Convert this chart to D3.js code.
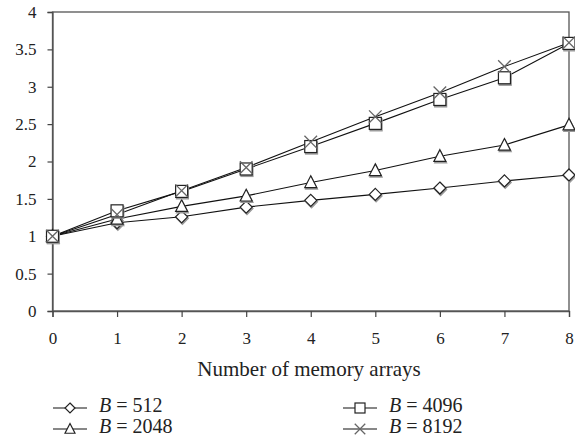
<!DOCTYPE html>
<html>
<head>
<meta charset="utf-8">
<script src="https://cdn.jsdelivr.net/npm/d3@7"></script>
<style>
  body { margin: 0; background: #fff; }
  svg text { font-family: "Liberation Serif", "DejaVu Serif", serif; fill: #222; }
</style>
</head>
<body>
<svg id="chart" width="575" height="447"></svg>
<script>
// values
const xs = [0, 1, 2, 3, 4, 5, 6, 7, 8];
const b512 = [1, 1.18, 1.26, 1.39, 1.48, 1.56, 1.645, 1.74, 1.82];
const b2048 = [1, 1.23, 1.40, 1.54, 1.72, 1.88, 2.07, 2.22, 2.49];
const b4096 = [1, 1.34, 1.60, 1.90, 2.20, 2.51, 2.83, 3.12, 3.58];
const b8192 = [1, 1.29, 1.61, 1.92, 2.26, 2.60, 2.92, 3.27, 3.59];
const yTicks = [0, 0.5, 1, 1.5, 2, 2.5, 3, 3.5, 4];
const seriesNames = ['512', '2048', '4096', '8192'];

const series = [
  { name: seriesNames[0], vals: b512, sym: 'diamond' },
  { name: seriesNames[1], vals: b2048, sym: 'triangle' },
  { name: seriesNames[2], vals: b4096, sym: 'square' },
  { name: seriesNames[3], vals: b8192, sym: 'cross' }
];

const svg = d3.select('#chart');

const x = d3.scaleLinear().domain([0, 8]).range([52.5, 569]);
const y = d3.scaleLinear().domain([0, 4]).range([311, 12]);

// box
svg.append('rect')
  .attr('x', x(0)).attr('y', y(4))
  .attr('width', x(8) - x(0)).attr('height', y(0) - y(4))
  .attr('fill', 'none').attr('stroke', '#555').attr('stroke-width', 1.3);

// y axis
const yAx = svg.append('g')
  .attr('transform', `translate(${x(0)},0)`)
  .call(d3.axisLeft(y).tickValues(yTicks).tickSize(5).tickPadding(11)
    .tickFormat(d => String(d)));
// x axis
const xAx = svg.append('g')
  .attr('transform', `translate(0,${y(0)})`)
  .call(d3.axisBottom(x).tickValues(xs).tickSize(6).tickPadding(15)
    .tickFormat(d => String(d)));
[yAx, xAx].forEach(g => {
  g.select('.domain').attr('stroke', '#555').attr('stroke-width', 1.3);
  g.selectAll('.tick line').attr('stroke', '#444').attr('stroke-width', 1.2);
  g.selectAll('.tick text')
    .attr('font-family', '"Liberation Serif", serif')
    .attr('font-size', 17).attr('fill', '#222');
});

svg.append('text')
  .attr('x', 309).attr('y', 376)
  .attr('text-anchor', 'middle')
  .attr('font-size', 21)
  .text('Number of memory arrays');

function drawSymbol(g, sym, cx, cy, r, shadow) {
  const shapes = [];
  if (shadow && sym !== 'cross') shapes.push({ dx: 0.8, dy: 1.5, col: '#999', fill: '#999' });
  shapes.push({ dx: 0, dy: 0, col: sym === 'cross' ? '#666' : '#222', fill: '#fff' });
  shapes.forEach(o => {
    const X = cx + o.dx, Y = cy + o.dy;
    if (sym === 'diamond') {
      g.append('path')
        .attr('d', `M${X},${Y - r}L${X + r},${Y}L${X},${Y + r}L${X - r},${Y}Z`)
        .attr('fill', o.fill).attr('stroke', o.col).attr('stroke-width', 1.2);
    } else if (sym === 'triangle') {
      g.append('path')
        .attr('d', `M${X},${Y - r * 1.1}L${X + r},${Y + r * 0.85}L${X - r},${Y + r * 0.85}Z`)
        .attr('fill', o.fill).attr('stroke', o.col).attr('stroke-width', 1.2);
    } else if (sym === 'square') {
      g.append('rect')
        .attr('x', X - r).attr('y', Y - r).attr('width', 2 * r).attr('height', 2 * r)
        .attr('fill', o.fill).attr('stroke', o.col).attr('stroke-width', 1.2);
    } else {
      const c = r * 1.05;
      g.append('path')
        .attr('d', `M${X - c},${Y - c}L${X + c},${Y + c}M${X + c},${Y - c}L${X - c},${Y + c}`)
        .attr('fill', 'none').attr('stroke', o.col).attr('stroke-width', 1.3);
    }
  });
}

const line = d3.line().x((d, i) => x(xs[i])).y(d => y(d));

series.forEach(s => {
  svg.append('path')
    .datum(s.vals)
    .attr('d', line)
    .attr('fill', 'none').attr('stroke', '#111').attr('stroke-width', 1.1);
});
series.forEach(s => {
  const g = svg.append('g');
  s.vals.forEach((v, i) => drawSymbol(g, s.sym, x(xs[i]), y(v), 6, true));
});

// legend
const legPos = [
  { lx: 53, ly: 408 }, { lx: 53, ly: 429 },
  { lx: 343, ly: 408 }, { lx: 343, ly: 429 }
];
series.forEach((s, i) => {
  const p = legPos[i];
  const g = svg.append('g');
  g.append('line')
    .attr('x1', p.lx).attr('x2', p.lx + 34)
    .attr('y1', p.ly).attr('y2', p.ly)
    .attr('stroke', '#111').attr('stroke-width', 1.1);
  drawSymbol(g, s.sym, p.lx + 17, p.ly, 5, false);
  const t = g.append('text')
    .attr('x', p.lx + 46).attr('y', p.ly + 4)
    .attr('font-size', 20);
  t.append('tspan').attr('font-style', 'italic').text('B');
  t.append('tspan').text(' = ' + s.name);
});
</script>
</body>
</html>
